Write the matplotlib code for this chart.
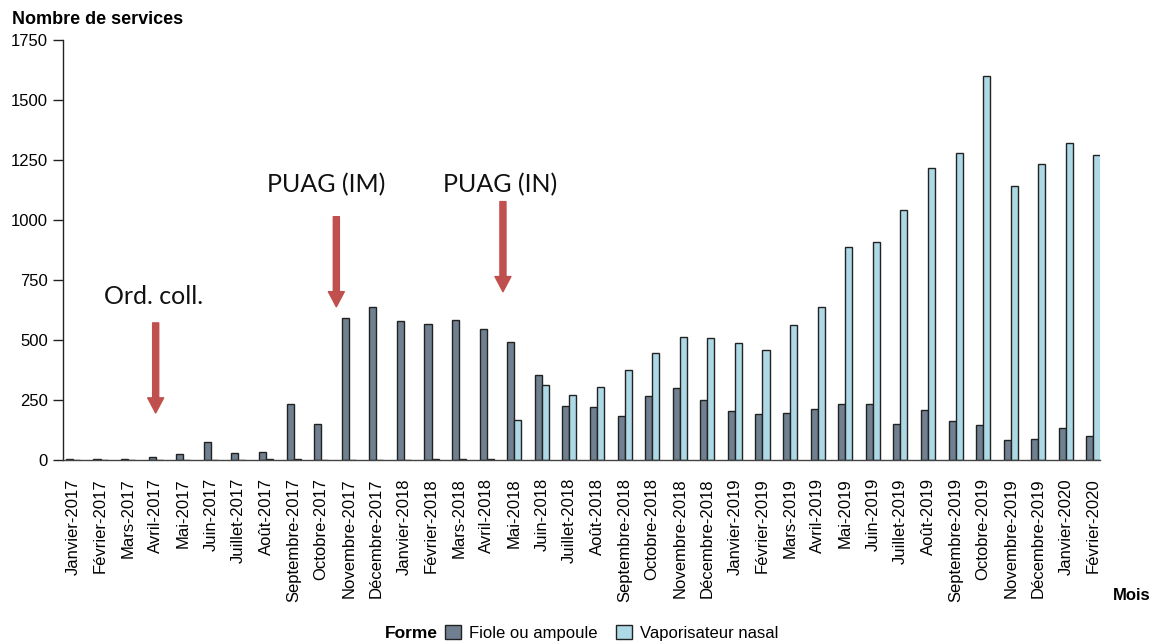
import matplotlib
matplotlib.use("Agg")
import matplotlib.pyplot as plt
import numpy as np
from matplotlib.patches import Patch

months = ["Janvier-2017", "Février-2017", "Mars-2017", "Avril-2017", "Mai-2017", "Juin-2017",
          "Juillet-2017", "Août-2017", "Septembre-2017", "Octobre-2017", "Novembre-2017", "Décembre-2017",
          "Janvier-2018", "Février-2018", "Mars-2018", "Avril-2018", "Mai-2018", "Juin-2018",
          "Juillet-2018", "Août-2018", "Septembre-2018", "Octobre-2018", "Novembre-2018", "Décembre-2018",
          "Janvier-2019", "Février-2019", "Mars-2019", "Avril-2019", "Mai-2019", "Juin-2019",
          "Juillet-2019", "Août-2019", "Septembre-2019", "Octobre-2019", "Novembre-2019", "Décembre-2019",
          "Janvier-2020", "Février-2020"]

fiole = [5, 5, 5, 11, 23, 75, 29, 35, 232, 151, 591, 639,
         581, 569, 586, 546, 494, 353, 226, 220, 185, 266, 302, 249,
         203, 191, 198, 214, 232, 232, 150, 209, 163, 145, 82, 88,
         134, 99]

vapo = [0, 0, 0, 0, 0, 0, 0, 4, 4, 0, 0, 0,
        0, 3, 3, 3, 168, 313, 273, 306, 376, 447, 515, 510,
        487, 457, 562, 638, 887, 911, 1044, 1218, 1282, 1602, 1143, 1235,
        1324, 1271]

series_names = ["Fiole ou ampoule", "Vaporisateur nasal"]
series_colors = ["#708090", "#ADD8E6"]

yticks = [0, 250, 500, 750, 1000, 1250, 1500, 1750]

# annotations: (text, text_x, text_y, arrow_x, arrow_top, arrow_tip)
annotations = [
    ("Ord. coll.", 2.94, 681, 3.0, 572, 196),
    ("PUAG (IM)", 9.17, 1149, 9.55, 1015, 639),
    ("PUAG (IN)", 15.48, 1149, 15.59, 1078, 702),
]

plt.rcParams['font.family'] = ['Liberation Sans', 'DejaVu Sans']

W, H = 1151, 642
fig = plt.figure(figsize=(W / 100, H / 100), dpi=100)
ax = fig.add_axes([63 / W, 1 - 460 / H, (1100 - 63) / W, (460 - 40.5) / H])

x = np.arange(len(months))
w = 0.255
ax.bar(x - w / 2, fiole, width=w, color=series_colors[0], edgecolor="#222222", linewidth=1)
ax.bar(x + w / 2, vapo, width=w, color=series_colors[1], edgecolor="#222222", linewidth=1)

ax.set_xlim(-0.36, len(months) - 1 + 0.236)
ax.set_ylim(0, 1750)
ax.set_yticks(yticks)
ax.set_yticklabels([str(v) for v in yticks], fontsize=12)
ax.set_xticks(x)
ax.set_xticklabels(months, rotation=90, fontsize=12, va="top", ha="center")
ax.tick_params(axis="x", length=0, pad=13)
ax.tick_params(axis="y", length=7.2, width=1, pad=3.6, color="#222222")

for s in ["top", "right"]:
    ax.spines[s].set_visible(False)
ax.spines["left"].set_color("#222222")
ax.spines["bottom"].set_color("#444444")
ax.spines["left"].set_linewidth(1)
ax.spines["bottom"].set_linewidth(1)

arrow_color = "#C0504D"
for txt, tx, ty, axx, atop, atip in annotations:
    ax.text(tx, ty, txt, ha="center", va="center", fontsize=18,
            family=["Lato", "DejaVu Sans"], color="#111111")
    ax.annotate("", xy=(axx, atip), xytext=(axx, atop),
                arrowprops=dict(arrowstyle="simple,head_length=0.95,head_width=1.0,tail_width=0.38",
                                mutation_scale=11.5, color=arrow_color, shrinkA=0, shrinkB=0))

fig.text(12 / W, 1 - 20 / H, "Nombre de services", fontsize=13, fontweight="bold",
         ha="left", va="center")
fig.text(1150 / W, 1 - 595 / H, "Mois", fontsize=12, fontweight="bold", ha="right", va="center")

fig.text(438 / W, 1 - 633 / H, "Forme", fontsize=12.5, fontweight="bold", ha="right", va="center")
handles = [Patch(facecolor=c, edgecolor="#222222", linewidth=1) for c in series_colors]
fig.legend(handles, series_names, loc="center left", bbox_to_anchor=(445 / W, 1 - 633 / H),
           ncol=2, frameon=False, fontsize=12, handlelength=0.95, handleheight=0.95,
           handletextpad=0.5, columnspacing=1.1, borderpad=0, borderaxespad=0)

fig.savefig("out.png", dpi=100)
